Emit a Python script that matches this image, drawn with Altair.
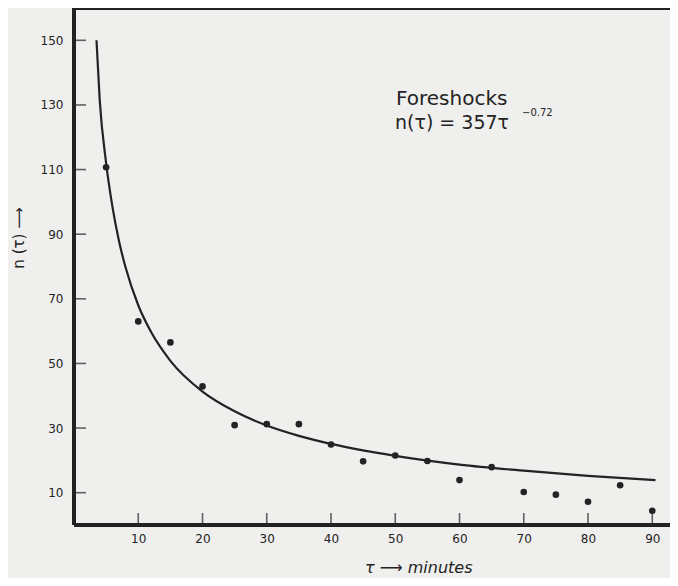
import altair as alt
import pandas as pd

# ---- data ----
tau_obs = [5, 10, 15, 20, 25, 30, 35, 40, 45, 50, 55, 60, 65, 70, 75, 80, 85, 90]
n_obs = [110.7, 63.0, 56.5, 42.9, 30.9, 31.2, 31.2, 24.9, 19.7, 21.5, 19.8, 13.9,
         17.9, 10.2, 9.4, 7.2, 12.3, 4.4]

# fitted curve n(tau) = 357 tau^-0.72
tau_fit = [3.5, 4, 5, 6, 7, 8, 10, 12, 15, 20, 25, 30, 35, 40, 50, 60, 70, 80, 90.5]
n_fit = [150, 131.6, 112, 98.3, 87.9, 79.9, 68, 59.7, 50.8, 41.3, 35.2, 30.8, 27.6,
         25.1, 21.4, 18.7, 16.8, 15.2, 13.9]

x_ticks = [10, 20, 30, 40, 50, 60, 70, 80, 90]
y_ticks = [10, 30, 50, 70, 90, 110, 130, 150]
x_domain = [0, 92.76]
y_domain = [0, 160]

title_lines = ["Foreshocks"]
formula_main = ["n(τ) = 357τ"]
formula_exp = ["−0.72"]
y_title = ["n (τ)  ⟶"]
x_title = ["τ  ⟶  minutes"]

INK = "#232323"
BG = "#efefed"

obs = pd.DataFrame({"tau": tau_obs, "n": n_obs})
fit = pd.DataFrame({"tau": tau_fit, "n": n_fit})
xt = pd.DataFrame({"tau": x_ticks})
yt = pd.DataFrame({"n": y_ticks})

xs = alt.Scale(domain=x_domain, nice=False, zero=False)
ys = alt.Scale(domain=y_domain, nice=False, zero=False)

xaxis = alt.Axis(values=x_ticks, ticks=False, domain=False, grid=False,
                 labelPadding=8, labelFontSize=12, labelColor=INK,
                 title=None, labelFont="DejaVu Sans")
yaxis = alt.Axis(values=y_ticks, ticks=False, domain=False, grid=False,
                 labelPadding=11, labelFontSize=12, labelColor=INK,
                 title=None, labelFont="DejaVu Sans")

X = alt.X("tau:Q", scale=xs, axis=xaxis)
Y = alt.Y("n:Q", scale=ys, axis=yaxis)
X0 = alt.XDatum(0, scale=xs, axis=xaxis)
Y0 = alt.YDatum(0, scale=ys, axis=yaxis)

curve = alt.Chart(fit).mark_line(color=INK, strokeWidth=2.2, interpolate="monotone").encode(x=X, y=Y)
points = alt.Chart(obs).mark_circle(color=INK, size=44, opacity=1).encode(x=X, y=Y)

left_line = alt.Chart(obs).mark_rule(color=INK, strokeWidth=2.5).encode(x=X0)
bottom_line = alt.Chart(obs).mark_rule(color=INK, strokeWidth=2.5).encode(y=Y0)
top_line = alt.Chart(obs).mark_rule(color=INK, strokeWidth=2.5).encode(
    y=alt.YDatum(160, scale=ys, axis=yaxis))

x_tick_marks = alt.Chart(xt).mark_tick(color=INK, size=12, thickness=1.6,
                                       orient="vertical", yOffset=-6).encode(x=X, y=Y0)
y_tick_marks = alt.Chart(yt).mark_tick(color=INK, size=12, thickness=1.6,
                                       orient="horizontal", xOffset=6).encode(x=X0, y=Y)

def label(lst, x, y, size, align="left", angle=0, style="normal", baseline="alphabetic"):
    return alt.Chart(pd.DataFrame({"t": lst})).mark_text(
        align=align, baseline=baseline, fontSize=size, font="DejaVu Sans",
        color=INK, angle=angle, fontStyle=style
    ).encode(text="t:N", x=alt.value(x), y=alt.value(y))

t1 = label(title_lines, 322, 97, 20)
t2 = label(formula_main, 321, 121, 19)
t3 = label(formula_exp, 448, 108, 10)
ty = label(y_title, -55, 230, 15, align="center", angle=270, baseline="middle")
tx = label(x_title, 291, 565, 16, align="left", style="italic")

chart = alt.layer(left_line, bottom_line, top_line, x_tick_marks, y_tick_marks,
                  curve, points, t1, t2, t3, ty, tx).properties(
    width=596, height=517,
    autosize=alt.AutoSizeParams(type="none"),
    padding={"left": 66, "top": 0, "right": 0, "bottom": 53},
    background=BG,
).configure_view(stroke=None)

chart.save("out.html", embed_options={"renderer": "svg", "actions": False})
